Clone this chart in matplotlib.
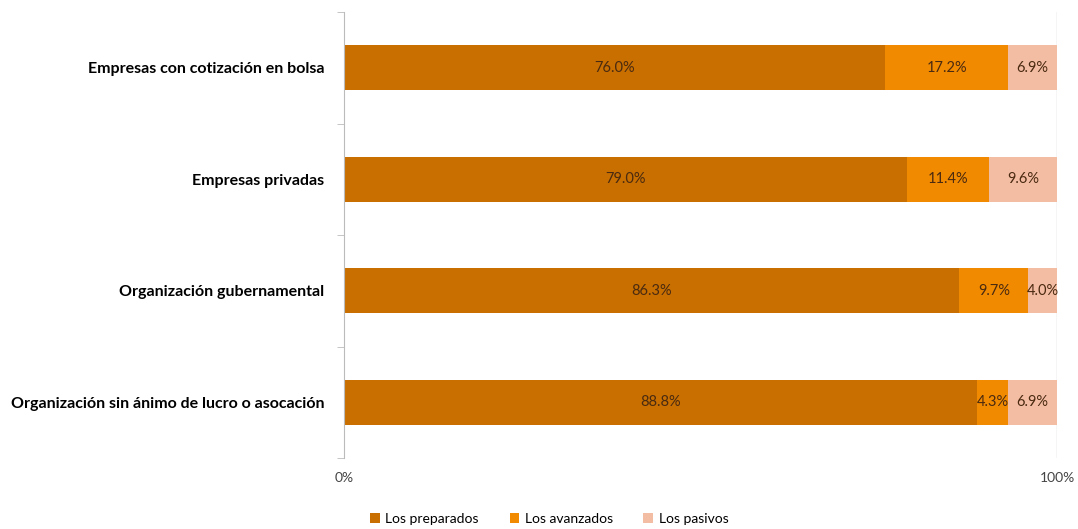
import numpy as np
import matplotlib
matplotlib.use('Agg')
import matplotlib.pyplot as plt

plt.rcParams['font.family'] = ['Lato', 'DejaVu Sans']

categories = ['Empresas con cotización en bolsa', 'Empresas privadas',
              'Organización gubernamental', 'Organización sin ánimo de lucro o asocación']
preparados = [76.0, 79.0, 86.3, 88.8]
avanzados = [17.2, 11.4, 9.7, 4.3]
pasivos = [6.9, 9.6, 4.0, 6.9]
series_names = ['Los preparados', 'Los avanzados', 'Los pasivos']
colors = ['#C86F00', '#F28A00', '#F3BDA4']

fig = plt.figure(figsize=(10.78, 5.29), dpi=100)
ax = fig.add_axes([344/1078, 1-458/529, (1057-344)/1078, (458-12)/529])

data = np.array([preparados, avanzados, pasivos])
totals = data.sum(axis=0)
shares = data / totals
y = np.arange(len(categories))[::-1]
left = np.zeros(len(categories))
for i in range(3):
    ax.barh(y, shares[i], left=left, height=0.4, color=colors[i], label=series_names[i])
    for j in range(len(categories)):
        ax.text(left[j] + shares[i][j]/2, y[j], '%.1f%%' % data[i][j],
                ha='center', va='center', fontsize=10.5, color='#4a2a10')
    left += shares[i]

ax.set_xlim(0, 1)
ax.set_ylim(-0.5, 3.5)
ax.set_yticks(y)
ax.set_yticklabels(categories, fontsize=11.5, fontweight='bold')
ax.tick_params(axis='y', length=0, pad=14)
ax.set_yticks(np.arange(-0.5, 4, 1), minor=True)
ax.tick_params(axis='y', which='minor', length=5, color='#bbbbbb')
ax.set_xticks([0, 1])
ax.set_xticklabels(['0%', '100%'], fontsize=10, color='#444444')
ax.tick_params(axis='x', length=0, pad=10)
for s in ['top', 'bottom', 'right']:
    ax.spines[s].set_visible(False)
ax.spines['left'].set_color('#bbbbbb')
ax.axvline(1, color='#d0d0d0', lw=1, zorder=0)

ax.legend(loc='center', bbox_to_anchor=(0.288, -0.137), ncol=3, frameon=False,
          fontsize=10, handlelength=0.7, handleheight=0.7, columnspacing=2.2, handletextpad=0.4)

fig.savefig('out.png', dpi=100)
